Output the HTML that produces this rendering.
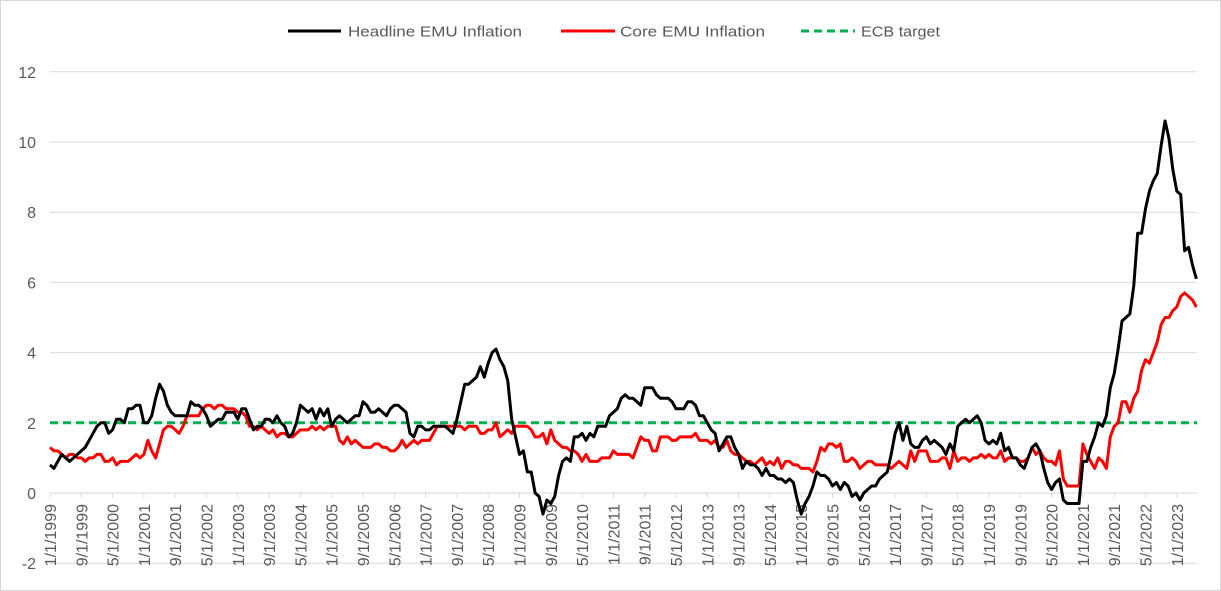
<!DOCTYPE html>
<html><head><meta charset="utf-8"><style>
html,body{margin:0;padding:0;background:#fff}
svg{display:block;font-family:"Liberation Sans",sans-serif}
</style></head><body>
<svg id="chart" width="1221" height="591" viewBox="0 0 1221 591">
<rect x="0.5" y="0.5" width="1220" height="590" fill="#fff" stroke="#d9d9d9"/>
<g id="grid"></g>
<g id="yticks"></g>
<g id="xaxis"></g>
<g id="series"></g>
<g>
 <g>
  <line x1="288" y1="31" x2="341" y2="31" stroke="#000" stroke-width="3"/>
  <text x="348" y="36.5" font-size="15" fill="#595959" textLength="174" lengthAdjust="spacingAndGlyphs">Headline EMU Inflation</text>
 </g>
 <g>
  <line x1="561" y1="31" x2="615" y2="31" stroke="#ff0000" stroke-width="3"/>
  <text x="620" y="36.5" font-size="15" fill="#595959" textLength="145" lengthAdjust="spacingAndGlyphs">Core EMU Inflation</text>
 </g>
 <g>
  <line x1="801" y1="31" x2="855" y2="31" stroke="#00b050" stroke-width="3" stroke-dasharray="8,5"/>
  <text x="861" y="36.5" font-size="15" fill="#595959" textLength="79" lengthAdjust="spacingAndGlyphs">ECB target</text>
 </g>
</g>
</svg>
<script>
const headline = [
0.8,0.7,0.9,1.1,1.0,0.9,1.0,1.1,1.2,1.3,1.5,1.7,
1.9,2.0,2.0,1.7,1.8,2.1,2.1,2.0,2.4,2.4,2.5,2.5,
2.0,2.0,2.2,2.7,3.1,2.9,2.5,2.3,2.2,2.2,2.2,2.2,
2.6,2.5,2.5,2.4,2.2,1.9,2.0,2.1,2.1,2.3,2.3,2.3,
2.1,2.4,2.4,2.1,1.8,1.9,1.9,2.1,2.1,2.0,2.2,2.0,
1.9,1.6,1.7,2.0,2.5,2.4,2.3,2.4,2.1,2.4,2.2,2.4,
1.9,2.1,2.2,2.1,2.0,2.1,2.2,2.2,2.6,2.5,2.3,2.3,
2.4,2.3,2.2,2.4,2.5,2.5,2.4,2.3,1.7,1.6,1.9,1.9,
1.8,1.8,1.9,1.9,1.9,1.9,1.8,1.7,2.1,2.6,3.1,3.1,
3.2,3.3,3.6,3.3,3.7,4.0,4.1,3.8,3.6,3.2,2.1,1.6,
1.1,1.2,0.6,0.6,0.0,-0.1,-0.6,-0.2,-0.3,-0.1,0.5,0.9,
1.0,0.9,1.6,1.6,1.7,1.5,1.7,1.6,1.9,1.9,1.9,2.2,
2.3,2.4,2.7,2.8,2.7,2.7,2.6,2.5,3.0,3.0,3.0,2.8,
2.7,2.7,2.7,2.6,2.4,2.4,2.4,2.6,2.6,2.5,2.2,2.2,
2.0,1.8,1.7,1.2,1.4,1.6,1.6,1.3,1.1,0.7,0.9,0.8,
0.8,0.7,0.5,0.7,0.5,0.5,0.4,0.4,0.3,0.4,0.3,-0.2,
-0.6,-0.3,-0.1,0.2,0.6,0.5,0.5,0.4,0.2,0.3,0.1,0.3,
0.2,-0.1,0.0,-0.2,0.0,0.1,0.2,0.2,0.4,0.5,0.6,1.1,
1.7,2.0,1.5,1.9,1.4,1.3,1.3,1.5,1.6,1.4,1.5,1.4,
1.3,1.1,1.4,1.2,1.9,2.0,2.1,2.0,2.1,2.2,2.0,1.5,
1.4,1.5,1.4,1.7,1.2,1.3,1.0,1.0,0.8,0.7,1.0,1.3,
1.4,1.2,0.7,0.3,0.1,0.3,0.4,-0.2,-0.3,-0.3,-0.3,-0.3,
0.9,0.9,1.3,1.6,2.0,1.9,2.2,3.0,3.4,4.1,4.9,5.0,
5.1,5.9,7.4,7.4,8.1,8.6,8.9,9.1,9.9,10.6,10.1,9.2,
8.6,8.5,6.9,7.0,6.5,6.1];
const core = [
1.3,1.2,1.2,1.1,1.0,1.1,1.1,1.0,1.0,0.9,1.0,1.0,
1.1,1.1,0.9,0.9,1.0,0.8,0.9,0.9,0.9,1.0,1.1,1.0,
1.1,1.5,1.2,1.0,1.4,1.8,1.9,1.9,1.8,1.7,1.9,2.2,
2.2,2.2,2.2,2.4,2.5,2.5,2.4,2.5,2.5,2.4,2.4,2.4,
2.3,2.3,2.2,1.9,1.9,1.8,1.9,1.8,1.7,1.8,1.6,1.7,
1.7,1.6,1.6,1.7,1.8,1.8,1.8,1.9,1.8,1.9,1.8,1.9,
1.9,1.9,1.5,1.4,1.6,1.4,1.5,1.4,1.3,1.3,1.3,1.4,
1.4,1.3,1.3,1.2,1.2,1.3,1.5,1.3,1.4,1.5,1.4,1.5,
1.5,1.5,1.7,1.9,1.9,1.9,1.9,1.9,1.9,1.9,1.8,1.9,
1.9,1.9,1.7,1.7,1.8,1.8,2.0,1.6,1.7,1.8,1.7,1.9,
1.9,1.9,1.9,1.8,1.6,1.6,1.7,1.4,1.8,1.5,1.4,1.3,
1.3,1.2,1.2,1.1,0.9,1.1,0.9,0.9,0.9,1.0,1.0,1.0,
1.2,1.1,1.1,1.1,1.1,1.0,1.3,1.6,1.5,1.5,1.2,1.2,
1.6,1.6,1.6,1.5,1.5,1.6,1.6,1.6,1.6,1.7,1.5,1.5,
1.5,1.4,1.5,1.3,1.3,1.5,1.2,1.1,1.1,1.0,0.9,0.9,
0.8,0.9,1.0,0.8,0.9,0.8,1.0,0.7,0.9,0.9,0.8,0.8,
0.7,0.7,0.7,0.6,0.9,1.3,1.2,1.4,1.4,1.3,1.4,0.9,
0.9,1.0,0.9,0.7,0.8,0.9,0.9,0.8,0.8,0.8,0.8,0.7,
0.8,0.9,0.8,0.7,1.2,0.9,1.2,1.2,1.2,0.9,0.9,0.9,
1.0,1.0,0.7,1.2,0.9,1.0,1.0,0.9,1.0,1.0,1.1,1.0,
1.1,1.0,1.0,1.2,0.9,1.0,1.0,1.0,0.9,0.9,1.0,1.3,
1.1,1.2,1.0,0.9,0.9,0.8,1.2,0.4,0.2,0.2,0.2,0.2,
1.4,1.1,0.9,0.7,1.0,0.9,0.7,1.6,1.9,2.0,2.6,2.6,
2.3,2.7,2.9,3.5,3.8,3.7,4.0,4.3,4.8,5.0,5.0,5.2,
5.3,5.6,5.7,5.6,5.5,5.3];
const ecbTarget = 2;
const yTicks = [-2,0,2,4,6,8,10,12];
const startYear = 1999, startMonth = 1;

const NS = "http://www.w3.org/2000/svg";
const X0 = 50, MONTH = 3.9125, PLOT_R = 1197;
const Y0 = 493, UNIT = 35.1;
const xAt = i => X0 + i * MONTH;
const yAt = v => Y0 - v * UNIT;
function mk(tag, attrs, parent){ const e = document.createElementNS(NS, tag); for (const k in attrs) e.setAttribute(k, attrs[k]); parent.appendChild(e); return e; }

const grid = document.getElementById('grid'), yt = document.getElementById('yticks');
yTicks.forEach(v => {
  if (v !== 0) {
    const l = mk('line', {x1: X0, x2: PLOT_R, y1: yAt(v), y2: yAt(v), stroke: '#d9d9d9', 'stroke-width': 1}, grid);
    
    
  }
  const t = mk('text', {x: 36, y: yAt(v) + 6, 'text-anchor': 'end', 'font-size': 16, fill: '#595959'}, yt);
  t.textContent = v;
  
  
});

const xa = document.getElementById('xaxis');
const axl = mk('line', {x1: X0, x2: PLOT_R, y1: Y0, y2: Y0, stroke: '#d9d9d9', 'stroke-width': 1}, xa);


const n = headline.length;
for (let i = 0; i < n; i += 8) {
  const x = xAt(i);
  const tk = mk('line', {x1: x, x2: x, y1: Y0, y2: Y0 + 5, stroke: '#d9d9d9'}, xa);
  
  
  const m = (startMonth - 1 + i) % 12 + 1, yr = startYear + Math.floor((startMonth - 1 + i) / 12);
  const t = mk('text', {x: 0, y: 0, transform: `translate(${x + 6},504) rotate(-90)`, 'text-anchor': 'end', 'font-size': 16, fill: '#595959'}, xa);
  t.textContent = `${m}/1/${yr}`;
  
  
}

const s = document.getElementById('series');
const tgt = mk('line', {x1: X0, x2: PLOT_R, y1: yAt(ecbTarget), y2: yAt(ecbTarget), stroke: '#00b050', 'stroke-width': 3, 'stroke-dasharray': '8,5'}, s);


function path(arr, color, name){
  const d = arr.map((v, i) => (i ? 'L' : 'M') + xAt(i).toFixed(2) + ',' + yAt(v).toFixed(2)).join('');
  const p = mk('path', {d, fill: 'none', stroke: color, 'stroke-width': 3, 'stroke-linejoin': 'round'}, s);
  
  
}
path(core, '#ff0000', 'core-inflation-line');
path(headline, '#000000', 'headline-inflation-line');
</script>
</body></html>
